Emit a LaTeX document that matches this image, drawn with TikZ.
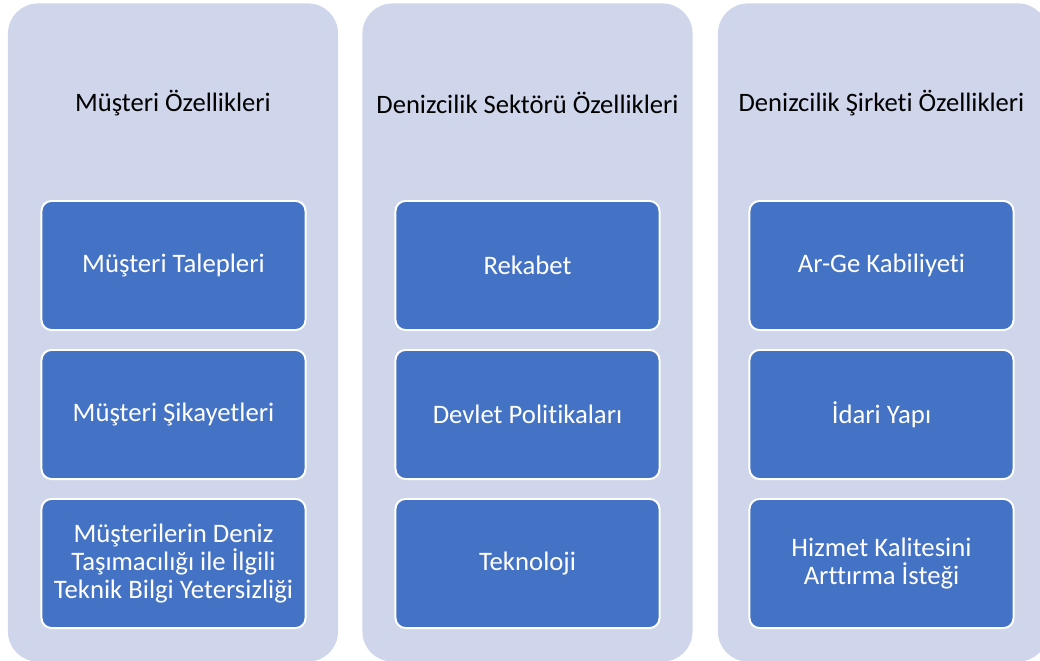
\documentclass[tikz,border=0pt]{standalone}
\usepackage{fontspec}
\setmainfont[Ligatures={NoCommon,NoRare}]{Carlito}
\definecolor{panelfill}{HTML}{CFD5EA}
\definecolor{itemblue}{HTML}{4472C4}

\begin{document}
\begin{tikzpicture}
        [x=0.025cm, y=-0.025cm,
        panel/.style={rectangle, rounded corners=0.75cm, fill=panelfill, minimum width=8.25cm, minimum height=16.45cm},
        title/.style={font=\fontsize{18.9}{22}\selectfont, text=black},
        item/.style={rectangle, rounded corners=0.25cm, draw=white, line width=1.4pt, fill=itemblue,
                     text=white, minimum width=6.6cm, minimum height=3.225cm, align=center,
                     font=\fontsize{19}{20.2}\selectfont}]

        \useasboundingbox (0,0) rectangle (1040,660);
        \clip (0,0) rectangle (1040,660);

        % background panels
        \node[panel] (p1) at (173,332.5) {};
        \node[panel] (p2) at (527.5,332.5) {};
        \node[panel] (p3) at (883,332.5) {};

        % panel titles
        \node[title] (t1) at (173,103) {Müşteri Özellikleri};
        \node[title] (t2) at (527.5,103) {Denizcilik Sektörü Özellikleri};
        \node[title] (t3) at (881.5,103) {Denizcilik Şirketi Özellikleri};

        % customer items
        \node[item] (c1) at (173.5,265.5) {Müşteri Talepleri};
        \node[item] (c2) at (173.5,414.5) {Müşteri Şikayetleri};
        \node[item] (c3) at (173.5,563.5) {Müşterilerin Deniz\\Taşımacılığı ile İlgili\\Teknik Bilgi Yetersizliği};

        % sector items
        \node[item] (s1) at (527.5,265.5) {Rekabet};
        \node[item] (s2) at (527.5,414.5) {Devlet Politikaları};
        \node[item] (s3) at (527.5,563.5) {Teknoloji};

        % company items
        \node[item] (f1) at (881.5,265.5) {Ar-Ge Kabiliyeti};
        \node[item] (f2) at (881.5,414.5) {İdari Yapı};
        \node[item] (f3) at (881.5,563.5) {Hizmet Kalitesini\\Arttırma İsteği};

    \end{tikzpicture}
\end{document}
